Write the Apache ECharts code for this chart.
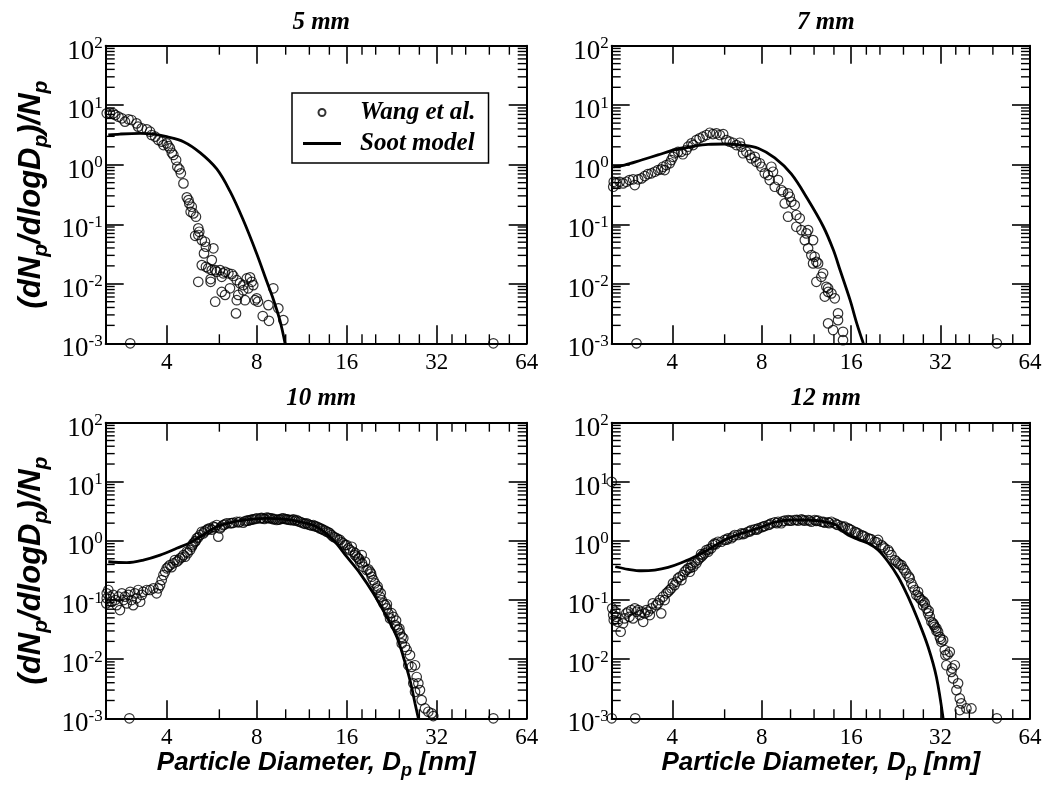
<!DOCTYPE html>
<html><head><meta charset="utf-8">
<script src="https://cdn.jsdelivr.net/npm/echarts@6/dist/echarts.min.js"></script>
<style>html,body{margin:0;padding:0;background:#fff}#c{width:1047px;height:791px}</style>
</head><body><div id="c"></div>
<script>
const panelTitles = ['5 mm', '7 mm', '10 mm', '12 mm'];
const xRange = [2.5, 64];
const yRange = [0.001, 100];
const xMinorTicks = [6, 10, 12, 14, 18, 20, 24, 28, 36, 40, 48, 56];
const yMinorTicks = [0.002,0.003,0.004,0.005,0.006,0.007,0.008,0.009,
  0.02,0.03,0.04,0.05,0.06,0.07,0.08,0.09,
  0.2,0.3,0.4,0.5,0.6,0.7,0.8,0.9,
  2,3,4,5,6,7,8,9,
  20,30,40,50,60,70,80,90];

// Panel 5 mm
const wang5 = [[2.52,7.31],[2.58,7.48],[2.65,7.31],[2.69,6.84],[2.76,6.41],[2.83,6.03],[2.90,5.29],[2.98,5.80],[3.05,5.64],[3.17,4.96],[3.21,4.36],[3.30,4.09],[3.43,3.94],[3.52,3.59],[3.56,3.16],[3.66,2.96],[3.75,2.60],[3.85,2.44],[3.90,2.14],[4.00,2.29],[4.05,2.06],[4.10,1.89],[4.16,1.59],[4.21,1.46],[4.30,1.20],[4.34,0.925],[4.41,0.837],[4.46,0.717],[4.55,0.486],[4.67,0.283],[4.73,0.255],[4.76,0.224],[4.85,0.197],[4.81,0.162],[4.91,0.152],[5.01,0.134],[5.10,0.0853],[5.14,0.0748],[5.10,0.066],[4.98,0.064],[5.24,0.054],[5.37,0.0508],[5.41,0.0419],[5.33,0.0324],[5.73,0.0394],[5.66,0.025],[5.24,0.0206],[5.41,0.0193],[5.51,0.0182],[5.66,0.017],[5.81,0.017],[5.88,0.0159],[6.03,0.017],[6.18,0.015],[6.11,0.0131],[6.27,0.0159],[6.43,0.015],[6.60,0.0146],[6.68,0.0135],[6.86,0.0115],[7.03,0.0102],[7.21,0.0095],[7.41,0.0123],[7.60,0.0128],[7.70,0.0108],[7.79,0.0095],[7.50,0.0084],[7.21,0.0078],[6.94,0.0065],[6.86,0.0053],[7.31,0.0053],[7.90,0.0053],[8.08,0.0050],[8.00,0.0057],[6.11,0.0073],[6.27,0.0065],[6.51,0.0084],[5.10,0.0108],[5.61,0.0120],[5.61,0.0108],[5.81,0.0050],[6.82,0.00318],[8.38,0.00287],[8.75,0.00438],[8.79,0.00239],[9.09,0.0084],[9.45,0.00387],[9.82,0.00245],[3.02,0.001],[49.5,0.001]];
const model5 = [[2.55,3.16],[2.79,3.28],[3.26,3.37],[3.61,3.28],[4.0,2.96],[4.55,2.44],[5.17,1.6],[5.88,0.85],[6.51,0.36],[7.2,0.12],[8.0,0.032],[8.64,0.011],[9.09,0.0055],[9.57,0.0024],[9.95,0.001]];

// Panel 7 mm
const wang7 = [[2.53,0.427],[2.54,0.518],[2.59,0.486],[2.66,0.518],[2.73,0.486],[2.80,0.518],[2.87,0.553],[2.95,0.569],[2.99,0.456],[3.07,0.569],[3.15,0.590],[3.23,0.646],[3.31,0.698],[3.40,0.717],[3.49,0.763],[3.58,0.815],[3.67,0.837],[3.77,0.815],[3.72,0.925],[3.82,0.989],[3.92,1.06],[3.97,1.20],[4.02,1.36],[4.07,1.56],[4.18,1.65],[4.29,1.65],[4.34,1.50],[4.46,1.77],[4.52,2.01],[4.64,2.29],[4.70,2.14],[4.82,2.60],[4.94,2.78],[5.07,2.96],[5.21,3.16],[5.35,3.45],[5.48,3.28],[5.63,3.37],[5.78,3.16],[5.93,3.28],[6.08,2.60],[6.24,2.44],[6.40,2.34],[6.57,2.14],[6.75,2.34],[6.83,2.01],[6.92,1.56],[7.10,1.65],[7.29,1.46],[7.38,1.28],[7.58,1.36],[7.67,1.12],[7.88,1.06],[7.98,0.925],[8.19,0.717],[8.40,0.671],[8.51,0.553],[8.62,0.925],[8.73,0.763],[8.85,0.427],[9.08,0.553],[9.31,0.376],[9.44,0.352],[9.56,0.224],[9.81,0.330],[9.94,0.290],[9.81,0.134],[10.06,0.239],[10.33,0.210],[10.46,0.143],[10.74,0.126],[10.46,0.0908],[10.88,0.0798],[11.17,0.0542],[11.31,0.0703],[11.46,0.0798],[11.46,0.0394],[11.91,0.0542],[11.75,0.0303],[12.06,0.0284],[12.22,0.0234],[11.91,0.0220],[12.38,0.0220],[12.87,0.0150],[12.70,0.0131],[12.22,0.0108],[13.20,0.0089],[13.38,0.0073],[13.38,0.0084],[13.04,0.0061],[13.73,0.0069],[14.09,0.0057],[14.45,0.00318],[14.45,0.00245],[13.38,0.00216],[13.91,0.00167],[15.02,0.00156],[15.02,0.00113],[3.03,0.001],[49.5,0.001]];
const model7 = [[2.53,0.925],[2.76,0.989],[3.15,1.20],[3.58,1.46],[4.07,1.77],[4.64,2.01],[5.28,2.20],[6.00,2.23],[6.83,2.14],[7.78,1.89],[8.85,1.3],[10.06,0.7],[11.39,0.27],[12.90,0.0908],[13.94,0.0368],[14.68,0.017],[15.87,0.0053],[16.71,0.00216],[17.58,0.001]];

// Panel 10 mm
const wang10 = [[2.52,0.130],[2.52,0.107],[2.51,0.0879],[2.55,0.148],[2.58,0.114],[2.62,0.0936],[2.65,0.122],[2.69,0.100],[2.72,0.0822],[2.76,0.114],[2.79,0.0678],[2.83,0.130],[2.87,0.100],[2.90,0.114],[2.94,0.0879],[2.98,0.122],[3.02,0.138],[3.05,0.100],[3.09,0.0822],[3.13,0.130],[3.17,0.107],[3.21,0.148],[3.26,0.0936],[3.30,0.122],[3.34,0.138],[3.43,0.148],[3.52,0.148],[3.61,0.158],[3.70,0.130],[3.75,0.158],[3.80,0.179],[3.85,0.218],[3.90,0.265],[3.95,0.301],[4.0,0.344],[4.05,0.366],[4.10,0.391],[4.21,0.418],[4.26,0.475],[4.32,0.445],[4.43,0.508],[4.55,0.577],[4.61,0.541],[4.67,0.656],[4.79,0.702],[4.85,0.798],[4.91,0.910],[4.97,0.969],[5.04,1.11],[5.17,1.26],[5.24,1.43],[5.30,1.34],[5.44,1.53],[5.58,1.63],[5.73,1.74],[5.88,1.86],[5.95,1.18],[6.03,1.63],[6.18,1.86],[6.35,1.99],[6.51,1.99],[6.68,2.03],[6.86,2.11],[7.03,2.11],[7.21,2.03],[7.41,2.20],[7.60,2.26],[7.79,2.32],[8.0,2.41],[8.21,2.41],[8.42,2.41],[8.64,2.47],[8.86,2.41],[9.09,2.32],[9.33,2.26],[9.57,2.32],[9.82,2.41],[10.08,2.32],[10.34,2.26],[10.61,2.32],[10.88,2.26],[11.17,2.11],[11.46,1.99],[11.76,1.99],[12.06,1.86],[12.37,1.86],[12.70,1.74],[13.02,1.63],[13.36,1.53],[13.72,1.43],[14.07,1.34],[14.43,1.18],[14.82,1.11],[15.20,1.04],[15.58,0.910],[16.0,0.853],[16.20,0.750],[16.63,0.798],[16.83,0.656],[17.05,0.577],[17.28,0.541],[17.49,0.508],[17.96,0.577],[17.73,0.445],[18.18,0.366],[18.42,0.445],[18.66,0.322],[19.15,0.301],[19.40,0.248],[19.64,0.218],[19.89,0.192],[20.16,0.158],[20.41,0.148],[20.68,0.114],[20.95,0.100],[21.21,0.0879],[21.49,0.0822],[21.77,0.0724],[22.04,0.0596],[22.34,0.0490],[22.91,0.0521],[23.22,0.0378],[23.52,0.0353],[23.80,0.0310],[24.12,0.0273],[24.44,0.0239],[24.74,0.0225],[24.44,0.0185],[25.07,0.0162],[25.40,0.0143],[26.05,0.0117],[25.71,0.0079],[26.39,0.0074],[27.08,0.0079],[27.43,0.0050],[26.72,0.0039],[27.78,0.0039],[28.13,0.0030],[27.08,0.0028],[28.50,0.00203],[29.24,0.00147],[30.0,0.00129],[30.78,0.00121],[31.17,0.00109],
  [4.15,0.36],[4.38,0.47],[4.5,0.53],[4.7,0.62],[4.88,0.85],[5.0,1.0],[5.1,1.15],[5.35,1.45],[5.5,1.6],[5.65,1.55],[5.8,1.7],[6.1,1.75],[6.25,1.9],[6.6,2.0],[6.95,2.05],[7.3,2.15],[7.5,2.2],[7.7,2.3],[7.9,2.35],[8.3,2.45],[8.5,2.35],[8.75,2.45],[9.0,2.4],[9.2,2.35],[9.45,2.3],[9.7,2.38],[9.95,2.35],[10.2,2.3],[10.5,2.25],[10.75,2.2],[11.0,2.15],[11.3,2.05],[11.6,1.95],[11.9,1.9],[12.2,1.82],[12.5,1.78],[12.85,1.7],[13.2,1.6],[13.55,1.5],[13.9,1.4],[14.25,1.25],[14.6,1.15],[15.0,1.05],[15.4,0.95],[15.8,0.85],[16.4,0.7],[17.1,0.62],[17.6,0.5],[18.0,0.42],[18.9,0.33],[19.3,0.28],[20.3,0.17],[20.8,0.13],[21.8,0.085],[22.6,0.06],[23.4,0.045],[24.0,0.033],
  [3.0,0.001],[49.5,0.001]];
const model10 = [[2.55,0.445],[2.94,0.43],[3.34,0.475],[3.80,0.577],[4.32,0.750],[4.79,0.933],[5.17,1.18],[5.88,1.74],[6.68,2.11],[7.60,2.32],[8.64,2.41],[9.82,2.35],[11.17,2.11],[12.70,1.74],[14.43,1.04],[16.0,0.541],[17.73,0.283],[19.64,0.130],[21.77,0.0521],[23.52,0.0239],[24.74,0.0110],[26.05,0.00443],[27.08,0.00179],[27.78,0.001]];

// Panel 12 mm
const wang12 = [[2.51,0.0724],[2.53,0.0557],[2.54,0.0459],[2.57,0.0634],[2.59,0.0521],[2.62,0.0429],[2.68,0.0291],[2.73,0.0404],[2.76,0.0490],[2.80,0.0596],[2.84,0.0634],[2.87,0.0521],[2.91,0.0678],[2.95,0.0490],[2.99,0.0724],[3.03,0.0634],[3.07,0.0678],[3.11,0.0557],[3.15,0.0634],[3.19,0.0429],[3.23,0.0596],[3.27,0.0678],[3.31,0.0634],[3.36,0.0557],[3.40,0.0724],[3.44,0.0879],[3.53,0.0822],[3.58,0.0879],[3.63,0.100],[3.67,0.0596],[3.72,0.114],[3.77,0.100],[3.82,0.130],[3.87,0.138],[3.92,0.148],[3.97,0.158],[4.02,0.192],[4.07,0.179],[4.13,0.204],[4.18,0.233],[4.24,0.248],[4.29,0.218],[4.34,0.265],[4.40,0.301],[4.46,0.322],[4.52,0.344],[4.58,0.301],[4.64,0.391],[4.70,0.366],[4.76,0.445],[4.82,0.418],[4.88,0.475],[4.94,0.508],[5.01,0.541],[5.07,0.577],[5.14,0.617],[5.21,0.702],[5.28,0.656],[5.41,0.750],[5.48,0.853],[5.56,0.910],[5.70,0.969],[5.85,0.969],[6.00,1.04],[6.16,1.11],[6.32,1.11],[6.49,1.26],[6.66,1.26],[6.83,1.34],[7.01,1.34],[7.19,1.43],[7.38,1.53],[7.58,1.57],[7.78,1.63],[7.98,1.70],[8.19,1.79],[8.40,1.86],[8.62,1.99],[8.85,2.07],[9.08,2.11],[9.31,1.99],[9.56,2.20],[9.81,2.26],[10.06,2.20],[10.33,2.26],[10.60,2.20],[10.88,2.32],[11.17,2.20],[11.46,2.26],[11.75,2.11],[12.06,2.26],[12.38,2.20],[12.70,2.11],[13.04,2.03],[13.38,2.07],[13.73,2.11],[14.09,1.99],[14.45,1.86],[14.83,1.79],[15.22,1.74],[15.62,1.63],[16.02,1.53],[16.45,1.43],[16.88,1.34],[17.32,1.26],[17.78,1.18],[18.24,1.11],[18.72,1.06],[19.21,0.969],[19.71,1.04],[20.22,0.853],[20.76,0.750],[21.30,0.702],[21.86,0.577],[22.44,0.475],[23.02,0.418],[23.62,0.391],[23.93,0.344],[24.54,0.283],[25.19,0.233],[25.51,0.192],[25.85,0.168],[26.19,0.148],[26.87,0.138],[26.52,0.122],[27.23,0.107],[27.57,0.100],[28.31,0.0879],[27.94,0.0822],[28.66,0.0724],[29.04,0.0596],[29.43,0.0521],[29.80,0.0429],[30.19,0.0404],[30.59,0.0353],[30.98,0.0332],[31.38,0.0291],[31.80,0.0239],[32.20,0.0197],[32.63,0.0210],[33.06,0.0143],[34.36,0.0133],[33.22,0.0117],[33.47,0.0079],[35.73,0.0079],[34.80,0.0061],[35.26,0.00473],[36.65,0.0039],[36.18,0.0030],[37.14,0.00217],[37.60,0.00179],[37.14,0.00138],[39.09,0.00147],[40.64,0.00147],
  [4.6,0.35],[5.0,0.6],[5.3,0.72],[5.6,0.88],[6.1,1.05],[6.4,1.18],[6.9,1.3],[7.3,1.45],[7.7,1.55],[8.1,1.75],[8.5,1.9],[9.0,2.0],[9.4,2.15],[9.9,2.2],[10.5,2.28],[11.0,2.25],[11.6,2.2],[12.2,2.18],[12.9,2.1],[13.5,2.0],[14.3,1.9],[15.0,1.7],[15.8,1.58],[16.6,1.4],[17.5,1.22],[18.5,1.08],[19.5,0.95],[20.5,0.8],[21.5,0.65],[22.7,0.45],[23.3,0.40],[24.2,0.32],[25.0,0.25],[27.0,0.115],[28.0,0.095],[29.2,0.065],[30.4,0.038],[31.0,0.030],[32.0,0.022],[33.8,0.012],[35.0,0.007],
  [2.5,0.001],[3.0,0.001],[49.5,0.001],[2.5,10.0]];
const model12 = [[2.57,0.366],[2.84,0.331],[3.15,0.313],[3.49,0.322],[3.87,0.357],[4.29,0.428],[4.76,0.541],[5.14,0.656],[6.00,1.04],[6.83,1.34],[7.78,1.63],[8.85,2.07],[10.06,2.26],[11.46,2.26],[13.04,2.11],[14.26,1.86],[14.83,1.53],[15.62,1.26],[16.88,1.06],[18.24,0.910],[19.71,0.702],[21.30,0.445],[23.02,0.248],[24.87,0.114],[26.87,0.0459],[29.04,0.0162],[30.98,0.0050],[32.63,0.001]];

const wangSets = [wang5, wang7, wang10, wang12];
const modelSets = [model5, model7, model10, model12];

const grids = [
  {left: 105.7, top: 45.7, width: 421, height: 297.6},
  {left: 611.7, top: 45.7, width: 418.3, height: 297.6},
  {left: 105.7, top: 422.7, width: 421, height: 295.6},
  {left: 611.7, top: 422.7, width: 418.3, height: 295.6}
];

const serif = 'Liberation Serif';
const sans = 'Liberation Sans';
const lineCol = '#000';

function xAxisFor(g, pos) {
  const ax = {
    type: 'log', logBase: 2, gridIndex: g, position: pos,
    min: xRange[0], max: xRange[1],
    axisLine: {show: true, onZero: false, lineStyle: {color: lineCol, width: 2}},
    axisTick: {show: true, inside: true, length: 18, lineStyle: {color: lineCol, width: 1.6}},
    minorTick: {show: false},
    splitLine: {show: false},
    axisLabel: {
      show: pos === 'bottom', margin: 8, color: '#000', fontFamily: serif, fontSize: 23,
      showMinLabel: false,
      formatter: function (v) {
        const e = Math.log2(v);
        return Math.abs(e - Math.round(e)) < 1e-6 ? String(Math.round(v)) : '';
      }
    }
  };
  if (pos === 'bottom' && g >= 2) {
    ax.name = '{a|Particle Diameter, D}{s|p}{a| [nm]}';
    ax.nameLocation = 'middle';
    ax.nameGap = 28;
    ax.nameTextStyle = {
      rich: {
        a: {fontFamily: sans, fontSize: 26, fontWeight: 'bold', fontStyle: 'italic', color: '#000', lineHeight: 34},
        s: {fontFamily: sans, fontSize: 18, fontWeight: 'bold', fontStyle: 'italic', color: '#000', lineHeight: 18, verticalAlign: 'bottom'}
      }
    };
  }
  return ax;
}
function yAxisFor(g, pos) {
  const ax = {
    type: 'log', logBase: 10, gridIndex: g, position: pos,
    min: yRange[0], max: yRange[1],
    axisLine: {show: true, onZero: false, lineStyle: {color: lineCol, width: 2}},
    axisTick: {show: true, inside: true, length: 18, lineStyle: {color: lineCol, width: 1.6}},
    minorTick: {show: false},
    splitLine: {show: false},
    axisLabel: {
      show: pos === 'left', margin: 3, color: '#000', padding: [12, 0, 0, 0],
      formatter: function (v) {
        const e = Math.round(Math.log10(v));
        return '{b|10}{s|' + e + '}';
      },
      rich: {
        b: {fontFamily: serif, fontSize: 27, color: '#000', lineHeight: 33},
        s: {fontFamily: serif, fontSize: 17, color: '#000', lineHeight: 17, verticalAlign: 'top'}
      }
    }
  };
  if (pos === 'left' && (g === 0 || g === 2)) {
    ax.name = '{a|(dN}{s|p}{a|/dlogD}{s|p}{a|)/N}{s|p}';
    ax.nameLocation = 'middle';
    ax.nameGap = 54;
    ax.nameRotate = 90;
    ax.nameTextStyle = {
      rich: {
        a: {fontFamily: sans, fontSize: 31, fontWeight: 'bold', fontStyle: 'italic', color: '#000', lineHeight: 40},
        s: {fontFamily: sans, fontSize: 21, fontWeight: 'bold', fontStyle: 'italic', color: '#000', lineHeight: 21, verticalAlign: 'bottom'}
      }
    };
  }
  return ax;
}

const xAxes = [], yAxes = [], series = [], titles = [];
grids.forEach(function (gr, g) {
  xAxes.push(xAxisFor(g, 'bottom'), xAxisFor(g, 'top'));
  yAxes.push(yAxisFor(g, 'left'), yAxisFor(g, 'right'));
  titles.push({
    text: panelTitles[g], left: gr.left + gr.width / 2, top: g < 2 ? 5 : 381, textAlign: 'center',
    textStyle: {fontFamily: serif, fontSize: 25, fontWeight: 'bold', fontStyle: 'italic', color: '#000'}
  });
  series.push({
    type: 'line', name: 'Soot model', xAxisIndex: 2 * g, yAxisIndex: 2 * g,
    data: modelSets[g], symbol: 'none', showSymbol: false, smooth: 0.35,
    color: '#000', lineStyle: {color: '#000', width: 2.8}, z: 2
  });
  series.push({
    type: 'scatter', name: 'Wang et al.', xAxisIndex: 2 * g, yAxisIndex: 2 * g,
    data: wangSets[g], symbol: 'circle', symbolSize: 9.5, clip: false,
    itemStyle: {color: 'rgba(0,0,0,0)', borderColor: '#000', borderWidth: 1.2}, z: 3
  });
  const minorData = xMinorTicks.map(function (v) { return [v, yRange[0], 0]; })
    .concat(yMinorTicks.map(function (v) { return [xRange[0], v, 1]; }));
  series.push({
    type: 'custom', xAxisIndex: 2 * g, yAxisIndex: 2 * g, silent: true, clip: false, z: 4,
    data: minorData, encode: {x: 0, y: 1},
    renderItem: function (params, api) {
      const L = 9;
      const st = {stroke: '#000', lineWidth: 1.4};
      if (api.value(2) === 0) {
        const v = api.value(0);
        const b = api.coord([v, yRange[0]]);
        const t = api.coord([v, yRange[1]]);
        return {type: 'group', children: [
          {type: 'line', shape: {x1: b[0], y1: b[1], x2: b[0], y2: b[1] - L}, style: st},
          {type: 'line', shape: {x1: t[0], y1: t[1], x2: t[0], y2: t[1] + L}, style: st}
        ]};
      } else {
        const v = api.value(1);
        const l = api.coord([xRange[0], v]);
        const r = api.coord([xRange[1], v]);
        return {type: 'group', children: [
          {type: 'line', shape: {x1: l[0], y1: l[1], x2: l[0] + L, y2: l[1]}, style: st},
          {type: 'line', shape: {x1: r[0], y1: r[1], x2: r[0] - L, y2: r[1]}, style: st}
        ]};
      }
    }
  });
});

const chart = echarts.init(document.getElementById('c'), null, {renderer: 'canvas'});
chart.setOption({
  animation: false,
  backgroundColor: '#fff',
  title: titles,
  grid: grids,
  xAxis: xAxes,
  yAxis: yAxes,
  legend: {
    show: true, left: 292, top: 93, orient: 'vertical', selectedMode: false,
    data: [{name: 'Wang et al.'}, {name: 'Soot model', icon: 'path://M0,0H38V3H0Z'}],
    borderColor: '#000', borderWidth: 1.5, borderRadius: 0,
    padding: [7, 13, 7, 11], itemGap: 6, itemWidth: 38, itemHeight: 7,
    textStyle: {fontFamily: serif, fontSize: 25, fontWeight: 'bold', fontStyle: 'italic', color: '#000', lineHeight: 25, padding: [0, 0, 0, 14]}
  },
  series: series
});
</script>
</body></html>
